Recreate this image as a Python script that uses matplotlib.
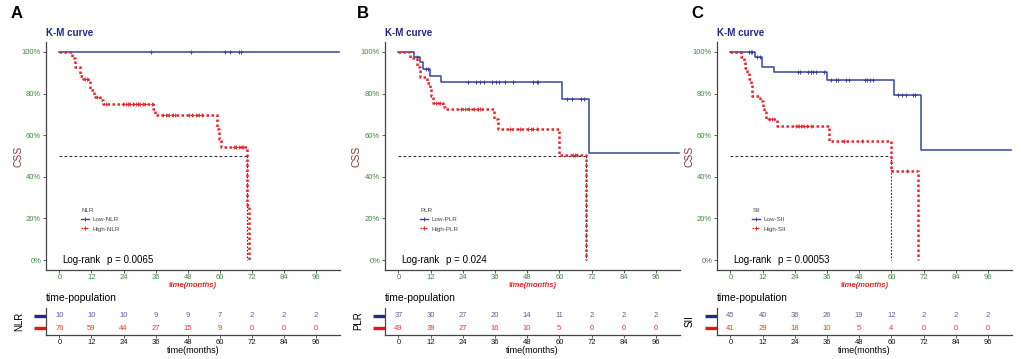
import matplotlib
matplotlib.use("Agg")
import matplotlib.pyplot as plt
import matplotlib.transforms as mtransforms
from matplotlib.lines import Line2D
import numpy as np

plt.rcParams['font.family'] = ['Liberation Sans', 'DejaVu Sans']

# ---------------- data ----------------
panel_letters = ["A", "B", "C"]
group_names = ["NLR", "PLR", "SII"]
p_values = ["0.0065", "0.024", "0.00053"]
time_ticks = [0, 12, 24, 36, 48, 60, 72, 84, 96]
surv_ticks = [0.0, 0.2, 0.4, 0.6, 0.8, 1.0]

# Panel A (NLR)
a_low_t = [0, 104.5]
a_low_s = [1.0, 1.0]
a_low_cens = [34.3, 49.2, 62.0, 64.0, 67.2, 68.0]
a_high_t = [0, 4.8, 5.8, 7.7, 8.9, 10.8, 11.6, 12.9, 15.1, 16.4, 35.2, 35.7, 59.1, 59.7, 60.3, 70.2, 71.0]
a_high_s = [1.0, 0.97, 0.93, 0.886, 0.871, 0.859, 0.816, 0.784, 0.77, 0.751, 0.725, 0.695, 0.63, 0.58, 0.544, 0.265, 0.0]
a_high_cens = [9.5, 10.4, 13.9, 17.6, 23.8, 24.8, 25.6, 26.5, 27.5, 28.5, 29.4, 30.2, 31.2, 32.1, 34.7,
               38.7, 39.9, 41.1, 42.4, 43.4, 48.6, 49.6, 51.1, 52.3, 53.3, 65.3, 66.2, 67.2, 68.2, 68.8]
a_risk_low = [10, 10, 10, 9, 9, 7, 2, 2, 2]
a_risk_high = [76, 59, 44, 27, 15, 9, 0, 0, 0]

# Panel B (PLR)
b_low_t = [0, 5.7, 8.0, 9.0, 11.7, 16.0, 61.0, 70.9, 104.5]
b_low_s = [1.0, 0.975, 0.95, 0.92, 0.885, 0.855, 0.775, 0.516, 0.516]
b_low_cens = [7.0, 10.2, 11.1, 26.0, 29.1, 30.6, 31.8, 34.9, 36.4, 37.6, 39.9, 42.8, 50.0, 51.5, 52.2,
              62.7, 64.8, 67.9, 69.3]
b_high_t = [0, 4.5, 7.0, 8.0, 10.7, 11.7, 12.1, 12.9, 16.7, 17.3, 35.6, 37.2, 59.8, 70.1]
b_high_s = [1.0, 0.97, 0.93, 0.88, 0.85, 0.82, 0.79, 0.755, 0.735, 0.725, 0.68, 0.63, 0.505, 0.0]
b_high_cens = [14.2, 15.4, 23.5, 25.0, 26.5, 28.0, 29.5, 30.3, 41.5, 45.3, 48.4, 49.3, 50.2, 51.5,
               65.2, 65.9, 66.7]
b_risk_low = [37, 30, 27, 20, 14, 11, 2, 2, 2]
b_risk_high = [49, 39, 27, 16, 10, 5, 0, 0, 0]

# Panel C (SII)
c_low_t = [0, 9.0, 11.8, 16.2, 36.2, 61.0, 71.1, 104.5]
c_low_s = [1.0, 0.975, 0.93, 0.905, 0.867, 0.795, 0.53, 0.53]
c_low_cens = [6.8, 7.5, 8.1, 10.0, 11.0, 25.1, 26.1, 29.0, 29.9, 30.8, 32.1, 34.8,
              37.5, 39.4, 40.3, 43.2, 44.1, 50.0, 51.0, 52.0, 53.0, 62.4, 64.0, 65.3, 68.2, 69.0]
c_high_t = [0, 4.1, 5.0, 5.6, 6.2, 6.8, 7.5, 8.1, 11.2, 12.2, 12.7, 13.2, 17.2, 36.9, 60.0, 70.0]
c_high_s = [1.0, 0.975, 0.95, 0.925, 0.90, 0.87, 0.84, 0.79, 0.765, 0.735, 0.71, 0.68, 0.645, 0.57, 0.43, 0.0]
c_high_cens = [14.3, 15.5, 24.3, 25.5, 26.5, 27.5, 28.5, 29.9, 42.3, 49.1, 65.9]
c_risk_low = [45, 40, 36, 26, 19, 12, 2, 2, 2]
c_risk_high = [41, 29, 18, 10, 5, 4, 0, 0, 0]

panels = [
    (a_low_t, a_low_s, a_low_cens, a_high_t, a_high_s, a_high_cens, a_risk_low, a_risk_high),
    (b_low_t, b_low_s, b_low_cens, b_high_t, b_high_s, b_high_cens, b_risk_low, b_risk_high),
    (c_low_t, c_low_s, c_low_cens, c_high_t, c_high_s, c_high_cens, c_risk_low, c_risk_high),
]

# ---------------- style / layout ----------------
W, H = 1021, 359
BLUE = '#3A4699'
RED = '#E8262B'
GREEN = '#3F8A3F'
NAVY = '#1F2A8C'
TBLUE = '#5A5EA2'
TRED = '#E53B35'
left_px = [46, 385, 717]
right_px = [340, 680, 1012]
letter_px = [17, 363, 697]
main_top, main_bot = 42, 270
tab_top, tab_bot = 308, 335


def fx(px):
    return px / W


def fy(py):
    return 1 - py / H


def step_value(t, s, x):
    idx = np.searchsorted(np.asarray(t), x, side='right') - 1
    return np.asarray(s)[idx]


fig = plt.figure(figsize=(W / 100, H / 100), dpi=100)

for i, (lt, ls, lc, ht, hs, hc, rl, rh) in enumerate(panels):
    L, R = left_px[i], right_px[i]
    ax = fig.add_axes([fx(L), fy(main_bot), fx(R - L), (main_bot - main_top) / H])
    # curves
    ax.step(lt, ls, where='post', color=BLUE, lw=1.1, zorder=3)
    ax.step(ht, hs, where='post', color=RED, lw=1.8, ls=(0, (1, 1)), zorder=4)
    ax.plot(lc, step_value(lt, ls, lc), ls='none', marker='+', ms=3.2, mew=0.7, color=BLUE, zorder=5)
    ax.plot(hc, step_value(ht, hs, hc), ls='none', marker='+', ms=2.6, mew=0.6, color=RED, zorder=5)
    # median line
    meds = []
    for t, s in ((lt, ls), (ht, hs)):
        s_arr = np.asarray(s)
        below = np.where(s_arr <= 0.5)[0]
        if len(below):
            meds.append(np.asarray(t)[below[0]])
    if meds:
        m = max(meds)
        ax.plot([0, m], [0.5, 0.5], color='#333333', lw=0.8, ls=(0, (2.5, 2)), zorder=2)
        for mm in meds:
            ax.plot([mm, mm], [0.5, 0.0], color='#333333', lw=0.8, ls=(0, (1.5, 1.5)), zorder=2)
    ax.set_xlim(-5, 105)
    ax.set_ylim(-0.048, 1.048)
    ax.set_xticks(time_ticks)
    ax.set_yticks(surv_ticks)
    ax.set_yticklabels([f"{int(v * 100)}%" for v in surv_ticks])
    for sp in ('top', 'right'):
        ax.spines[sp].set_visible(False)
    for sp in ('left', 'bottom'):
        ax.spines[sp].set_color('#444444')
        ax.spines[sp].set_linewidth(0.9)
    ax.tick_params(length=2, width=0.6, color='#444444', labelcolor=GREEN, labelsize=5.5, pad=1.5)
    ax.tick_params(axis='x', pad=0.6)
    # legend
    handles = [Line2D([], [], color=BLUE, lw=1.0, marker='+', ms=3, mew=0.7),
               Line2D([], [], color=RED, lw=1.0, ls=(0, (1, 1)), marker='+', ms=3, mew=0.7)]
    leg = ax.legend(handles, [f"Low-{group_names[i]}", f"High-{group_names[i]}"], title=group_names[i],
                    loc='upper left', bbox_to_anchor=(0.105, 0.29), frameon=False, fontsize=4.5,
                    title_fontsize=4.5, handlelength=1.3, handletextpad=0.5, labelspacing=0.6,
                    borderpad=0.2)
    leg._legend_box.align = 'left'
    for txt in leg.get_texts():
        txt.set_color('#444444')
    leg.get_title().set_color('#444444')
    # log-rank
    ax.text(16 / (R - L), 0.045, "Log-rank", fontsize=7,
            transform=ax.transAxes, va='center', ha='left')
    ax.text(61 / (R - L), 0.045, f"p = {p_values[i]}", fontsize=7, transform=ax.transAxes,
            va='center', ha='left')
    # texts
    fig.text(fx(L), fy(33), "K-M curve", fontsize=7, fontweight='bold', color=NAVY, va='center', ha='left')
    fig.text(fx(letter_px[i]), fy(13), panel_letters[i], fontsize=12, fontweight='bold', va='center', ha='center')
    fig.text(fx(L - 28), fy(156), "CSS", fontsize=7.5, color='#8B3A3A', rotation=90, va='center', ha='center')
    x_center = (L + R) / 2
    fig.text(fx(x_center), fy(285.5), "time(months)", fontsize=5.5, color=RED, fontweight='bold',
             fontstyle='italic', va='center', ha='center')

    # ---- risk table ----
    tx = fig.add_axes([fx(L), fy(tab_bot), fx(R - L), (tab_bot - tab_top) / H])
    tx.set_xlim(-5, 105)
    tx.set_ylim(-0.55, 1.6)
    for t, v in zip(time_ticks, rl):
        tx.text(t, 1, str(v), color=TBLUE, fontsize=5.5, ha='center', va='center')
    for t, v in zip(time_ticks, rh):
        tx.text(t, 0, str(v), color=TRED, fontsize=5.5, ha='center', va='center')
    trans = mtransforms.blended_transform_factory(tx.transAxes, tx.transData)
    tx.plot([-0.04, 0.0], [1, 1], color=NAVY, lw=2.4, transform=trans, clip_on=False, solid_capstyle='butt')
    tx.plot([-0.04, 0.0], [0, 0], color='#E8141B', lw=2.4, transform=trans, clip_on=False, solid_capstyle='butt')
    tx.set_xticks(time_ticks)
    tx.set_yticks([])
    for sp in ('top', 'right'):
        tx.spines[sp].set_visible(False)
    for sp in ('left', 'bottom'):
        tx.spines[sp].set_color('#444444')
        tx.spines[sp].set_linewidth(0.9)
    tx.tick_params(axis='x', length=2, width=0.6, color='#444444', labelcolor='#111111', labelsize=5.5, pad=1.0)
    fig.text(fx(L), fy(298), "time-population", fontsize=7.5, va='center', ha='left')
    fig.text(fx(L - 27), fy(321), group_names[i], fontsize=7, rotation=90, va='center', ha='center')
    fig.text(fx(x_center), fy(350.5), "time(months)", fontsize=6.5, va='center', ha='center')

fig.savefig("out.png", dpi=100)
